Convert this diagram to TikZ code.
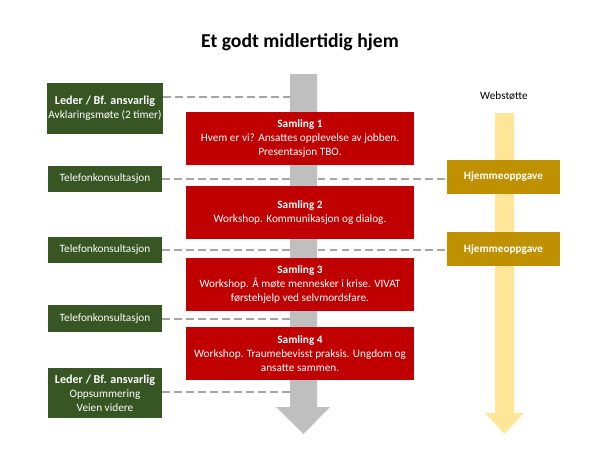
\documentclass[tikz,border=0pt]{standalone}
\usepackage{fontspec}
\setmainfont{Carlito}
\usepackage{xcolor}
\definecolor{grnbox}{HTML}{375623}
\definecolor{redbox}{HTML}{C00000}
\definecolor{goldbox}{HTML}{BF9000}
\definecolor{lightgold}{HTML}{FFE699}
\definecolor{shaftgray}{HTML}{BFBFBF}
\definecolor{dashgray}{HTML}{A6A6A6}
\tikzset{
	grn/.style={fill=grnbox, text=white, align=center, minimum width=2.85cm, inner sep=1pt, font=\fontsize{8}{10}\selectfont},
	samling/.style={fill=redbox, text=white, align=center, minimum width=5.7cm, minimum height=1.325cm, inner sep=1pt, font=\fontsize{8}{10}\selectfont},
	oppg/.style={fill=goldbox, text=white, minimum width=2.825cm, minimum height=0.85cm, inner sep=1pt, font=\bfseries\fontsize{8}{10}\selectfont},
	link/.style={draw=dashgray, line width=1.5pt, dash pattern=on 5.5pt off 3pt}
}
\begin{document}
\begin{tikzpicture}[x=0.025cm,y=-0.025cm]
        \useasboundingbox (0,0) rectangle (600,450);
        \node (title) at (300,42) {\fontsize{14}{16}\selectfont\bfseries Et godt midlertidig hjem};
        \node (web) at (504,96) {\fontsize{8}{10}\selectfont Webstøtte};
        % left column
        \node[grn, minimum height=1.275cm] (leder_1) at (105,108.5) {{\fontsize{8.6}{11}\selectfont\bfseries Leder / Bf. ansvarlig}\\ Avklaringsmøte (2 timer)};
        \node[grn, minimum height=0.65cm] (tlf_1) at (105,179) {Telefonkonsultasjon};
        \node[grn, minimum height=0.65cm] (tlf_2) at (105,250) {Telefonkonsultasjon};
        \node[grn, minimum height=0.675cm] (tlf_3) at (105,318.5) {Telefonkonsultasjon};
        \node[grn, minimum height=1.25cm] (leder_2) at (105,393) {{\fontsize{8.6}{11}\selectfont\bfseries Leder / Bf. ansvarlig}\\ Oppsummering\\ Veien videre};
        \coordinate (shaft_1) at (290,97);
        \coordinate (shaft_4) at (290,319);
        \coordinate (shaft_5) at (290,392);
        % dashed links
        \draw[link] (leder_1.east |- shaft_1) -- (shaft_1);
        \draw[link] (tlf_1.east) -- (446,179);
        \draw[link] (tlf_2.east) -- (446,250);
        \draw[link] (tlf_3.east |- shaft_4) -- (shaft_4);
        \draw[link] (leder_2.east |- shaft_5) -- (shaft_5);
        % arrows
        \fill[shaftgray] (290,74) -- (317,74) -- (317,407) -- (330,407) -- (303.5,434) -- (276,407) -- (290,407) -- cycle;
        \fill[lightgold] (495,113) -- (514,113) -- (514,413) -- (524,413) -- (504.5,434) -- (485,413) -- (495,413) -- cycle;
        % middle column
        \node[samling] (sam_1) at (300,138.5) {\textbf{Samling 1}\\ Hvem er vi? Ansattes opplevelse av jobben.\\ Presentasjon TBO.};
        \node[samling] (sam_2) at (300,212.5) {\textbf{Samling 2}\\ Workshop. Kommunikasjon og dialog.};
        \node[samling] (sam_3) at (300,284.5) {\textbf{Samling 3}\\ Workshop. Å møte mennesker i krise. VIVAT\\ førstehjelp ved selvmordsfare.};
        \node[samling] (sam_4) at (300,353.5) {\textbf{Samling 4}\\ Workshop. Traumebevisst praksis. Ungdom og\\ ansatte sammen.};
        % right column
        \node[oppg] (hjem_1) at (503.5,177) {Hjemmeoppgave};
        \node[oppg] (hjem_2) at (503.5,249) {Hjemmeoppgave};
\end{tikzpicture}
\end{document}
